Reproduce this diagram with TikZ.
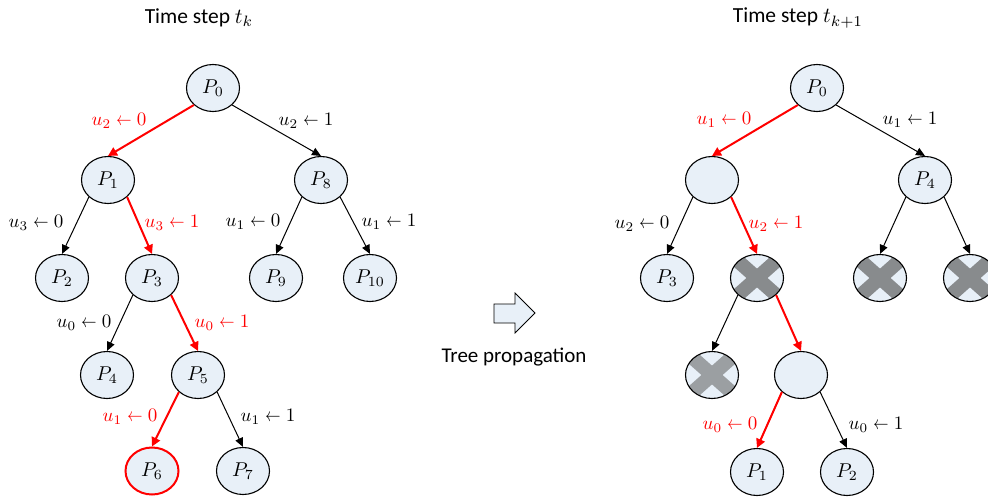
\documentclass[tikz,border=0pt]{standalone}
\usepackage{fontspec}
\setmainfont{Carlito}
\usetikzlibrary{arrows.meta,shapes.geometric}
\definecolor{nodefill}{RGB}{232,240,248}
\definecolor{pathred}{RGB}{255,0,0}
\definecolor{crossgray}{RGB}{136,139,141}
\definecolor{crosslight}{RGB}{155,159,162}
\newcommand{\myla}{\mathrel{\scalebox{0.8}[1]{$\leftarrow$}}}
\newcommand{\pl}[1]{\scalebox{2.0}{$#1$}}
\newcommand{\ul}[2]{\scalebox{1.9}{$#1\myla #2$}}
\newcommand{\tm}[1]{{\fontsize{10}{12}\selectfont\scalebox{2.15}{$#1$}}}
\tikzset{
  pnode/.style={ellipse, draw=black, line width=1.1pt, fill=nodefill,
    minimum width=53pt, minimum height=47pt, inner sep=0pt},
  rednode/.style={pnode, draw=pathred, line width=2pt},
  crossed/.style={pnode, path picture={
    \draw[line width=14pt, #1]
      (path picture bounding box.south west) -- (path picture bounding box.north east)
      (path picture bounding box.north west) -- (path picture bounding box.south east);}},
  crossed/.default=crossgray,
  bedge/.style={draw=black, line width=1pt, -{Triangle[length=9pt,width=8pt]}},
  redge/.style={draw=pathred, line width=2pt, -{Triangle[length=9pt,width=9pt]}},
  lbl/.style={inner sep=0pt, anchor=center},
  rlbl/.style={lbl, text=pathred},
  title/.style={font=\fontsize{21.5}{24}\selectfont, inner sep=0pt, anchor=center}
}
\begin{document}
\begin{tikzpicture}[x=1pt,y=-1pt]
\useasboundingbox (0,0) rectangle (988,497);
% titles
\node[title] (tl) at (199,18) {Time step \tm{t_k}};
\node[title] (tr) at (798,18) {Time step \tm{t_{k+1}}};
% left tree
\node[pnode] (P0) at (213,88) {\pl{P_0}};
\node[pnode] (P1) at (108,180) {\pl{P_1}};
\node[pnode] (P8) at (321,180) {\pl{P_8}};
\node[pnode] (P2) at (62,278) {\pl{P_2}};
\node[pnode] (P3) at (152,278) {\pl{P_3}};
\node[pnode] (P9) at (276,278) {\pl{P_9}};
\node[pnode] (P10) at (370,278) {\pl{P_{10}}};
\node[pnode] (P4) at (107,375) {\pl{P_4}};
\node[pnode] (P5) at (198,375) {\pl{P_5}};
\node[rednode] (P6) at (152,471) {\pl{P_6}};
\node[pnode] (P7) at (243,471) {\pl{P_7}};
\draw[redge] (P0.south west) -- (P1.north);
\draw[bedge] (P0.south east) -- (P8.north);
\draw[bedge] (P1.south west) -- (P2.north);
\draw[redge] (P1.south east) -- (P3.north);
\draw[bedge] (P8.south west) -- (P9.north);
\draw[bedge] (P8.south east) -- (P10.north);
\draw[bedge] (P3.south west) -- (P4.north);
\draw[redge] (P3.south east) -- (P5.north);
\draw[redge] (P5.south west) -- (P6.north);
\draw[bedge] (P5.south east) -- (P7.north);
\node[rlbl] (l1) at (119,121) {\ul{u_2}{0}};
\node[lbl] (l2) at (306,121) {\ul{u_2}{1}};
\node[lbl] (l3) at (36,223) {\ul{u_3}{0}};
\node[rlbl] (l4) at (172,223) {\ul{u_3}{1}};
\node[lbl] (l5) at (253,222) {\ul{u_1}{0}};
\node[lbl] (l6) at (389,222) {\ul{u_1}{1}};
\node[lbl] (l7) at (84,323) {\ul{u_0}{0}};
\node[rlbl] (l8) at (222,323) {\ul{u_0}{1}};
\node[rlbl] (l9) at (130,417) {\ul{u_1}{0}};
\node[lbl] (l10) at (268,417) {\ul{u_1}{1}};
% propagation arrow
\draw[fill=nodefill, line width=0.8pt, line join=miter]
  (494,304) -- (515,304) -- (515,293) -- (535,313) -- (515,333) -- (515,323) -- (494,323) -- cycle;
\node[title, font=\fontsize{21}{24}\selectfont] (tp) at (514,357) {Tree propagation};
% right tree
\node[pnode] (R0) at (817,88) {\pl{P_0}};
\node[pnode] (RL) at (712,180) {};
\node[pnode] (R4) at (925,180) {\pl{P_4}};
\node[pnode] (R3) at (667,278) {\pl{P_3}};
\node[crossed] (RX1) at (757,278) {};
\node[crossed] (RX2) at (880,278) {};
\node[crossed] (RX3) at (970,278) {};
\node[crossed=crosslight] (RX4) at (712,375) {};
\node[pnode] (RE) at (801,375) {};
\node[pnode] (R1) at (757,472) {\pl{P_1}};
\node[pnode] (R2) at (847,472) {\pl{P_2}};
\draw[redge] (R0.south west) -- (RL.north);
\draw[bedge] (R0.south east) -- (R4.north);
\draw[bedge] (RL.south west) -- (R3.north);
\draw[redge] (RL.south east) -- (RX1.north);
\draw[bedge] (R4.south west) -- (RX2.north);
\draw[bedge] (R4.south east) -- (RX3.north);
\draw[bedge] (RX1.south west) -- (RX4.north);
\draw[redge] (RX1.south east) -- (RE.north);
\draw[redge] (RE.south west) -- (R1.north);
\draw[bedge] (RE.south east) -- (R2.north);
\node[rlbl] (m1) at (724,120) {\ul{u_1}{0}};
\node[lbl] (m2) at (910,120) {\ul{u_1}{1}};
\node[lbl] (m3) at (642,224) {\ul{u_2}{0}};
\node[rlbl] (m4) at (776,224) {\ul{u_2}{1}};
\node[rlbl] (m5) at (730,425) {\ul{u_0}{0}};
\node[lbl] (m6) at (876,425) {\ul{u_0}{1}};
\end{tikzpicture}
\end{document}
